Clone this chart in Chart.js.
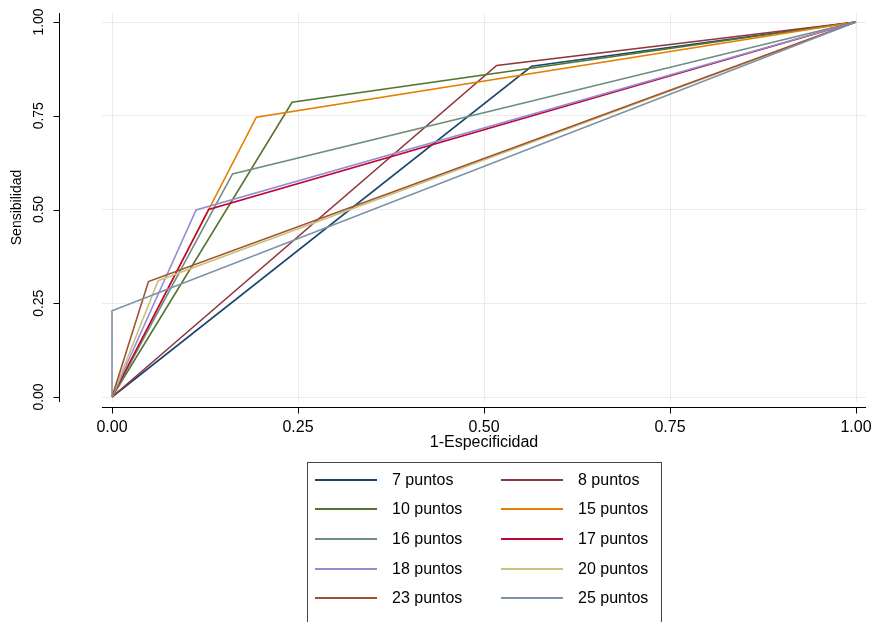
<!DOCTYPE html>
<html>
<head>
<meta charset="utf-8">
<script src="https://cdn.jsdelivr.net/npm/chart.js@4"></script>
<style>
  body { margin: 0; background: #fff; overflow: hidden; font-family: 'Liberation Sans', Arial, sans-serif; }
  #wrap { position: relative; width: 875px; height: 622px; }
  #legendBox {
    position: absolute; left: 307px; top: 462px; width: 355px; height: 180px;
    border: 1px solid #444; box-sizing: border-box; padding-top: 2px;
    display: grid; grid-template-columns: 186px 1fr; grid-auto-rows: 29.6px;
  }
  .item { display: flex; align-items: center; font-size: 16px; color: #000; }
  .swatch { display: inline-block; width: 62px; height: 2px; margin-left: 7px; margin-right: 15px; }
</style>
</head>
<body>
<div id="wrap">
  <canvas id="roc" width="875" height="465"></canvas>
  <div id="legendBox"></div>
</div>
<script>
// puntos de corte (una curva ROC por cada corte)
const seriesLabels = ['7 puntos', '8 puntos', '10 puntos', '15 puntos', '16 puntos',
                      '17 puntos', '18 puntos', '20 puntos', '23 puntos', '25 puntos'];
// 1-especificidad y sensibilidad en el punto de corte
const cutX = [0.564, 0.517, 0.242, 0.194, 0.162, 0.130, 0.113, 0.062, 0.049, 0.000];
const cutY = [0.882, 0.884, 0.786, 0.746, 0.595, 0.500, 0.499, 0.310, 0.308, 0.230];
const seriesColors = ['#1a476f', '#90353b', '#55752f', '#e37e00', '#6e8e84',
                      '#c10534', '#938dd2', '#cac27e', '#a0522d', '#7b92a8'];
const tickVals = [0, 0.25, 0.5, 0.75, 1];

Chart.defaults.font.family = "'Liberation Sans', Arial, sans-serif";
Chart.defaults.color = '#000';

// Stata pinta los ejes separados del area del grafico
const stataAxes = {
  id: 'stataAxes',
  afterDraw(chart) {
    const { ctx, chartArea, scales } = chart;
    const axX = chartArea.left - 43 + 0.5;
    const axY = chartArea.bottom + 5 + 0.5;
    ctx.save();
    ctx.strokeStyle = '#000';
    ctx.lineWidth = 1;
    ctx.beginPath();
    ctx.moveTo(axX, chartArea.top);
    ctx.lineTo(axX, chartArea.bottom);
    scales.y.ticks.forEach(t => {
      const py = Math.round(scales.y.getPixelForValue(t.value)) + 0.5;
      ctx.moveTo(axX - 6, py);
      ctx.lineTo(axX, py);
    });
    ctx.moveTo(chartArea.left, axY);
    ctx.lineTo(chartArea.right, axY);
    scales.x.ticks.forEach(t => {
      const px = Math.round(scales.x.getPixelForValue(t.value)) + 0.5;
      ctx.moveTo(px, axY);
      ctx.lineTo(px, axY + 6);
    });
    ctx.stroke();
    ctx.restore();
  }
};

const datasets = seriesLabels.map((lbl, i) => ({
  label: lbl,
  data: [{ x: 0, y: 0 }, { x: cutX[i], y: cutY[i] }, { x: 1, y: 1 }],
  borderColor: seriesColors[i],
  backgroundColor: seriesColors[i],
  borderWidth: 1.6,
  showLine: true,
  pointRadius: 0,
  tension: 0,
  order: seriesLabels.length - i
}));

const myChart = new Chart(document.getElementById('roc'), {
  type: 'scatter',
  data: { datasets },
  options: {
    responsive: false,
    animation: false,
    layout: { padding: { left: 0, top: 13, right: 9, bottom: 13 } },
    plugins: { legend: { display: false }, tooltip: { enabled: false } },
    scales: {
      x: {
        type: 'linear',
        min: -10 / 744, max: 1 + 10 / 744,
        afterBuildTicks: (axis) => { axis.ticks = tickVals.map(v => ({ value: v })); },
        afterFit: (scale) => { scale.height = 50; scale.paddingLeft = 0; scale.paddingRight = 0; },
        grid: { color: '#ececec', drawTicks: false },
        border: { display: false },
        ticks: { padding: 16, font: { size: 16 }, callback: v => v.toFixed(2), autoSkip: false, maxRotation: 0 },
        title: { display: true, text: '1-Especificidad', font: { size: 16 }, padding: 0 }
      },
      y: {
        min: -5 / 375, max: 1 + 9 / 375,
        afterBuildTicks: (axis) => { axis.ticks = tickVals.map(v => ({ value: v })); },
        afterFit: (scale) => { scale.width = 102; scale.paddingTop = 0; scale.paddingBottom = 0; },
        grid: { color: '#ececec', drawTicks: false },
        border: { display: false },
        ticks: { padding: 49, font: { size: 14 }, crossAlign: 'center', minRotation: 90, maxRotation: 90,
                 autoSkip: false, callback: v => v.toFixed(2) },
        title: { display: true, text: 'Sensibilidad', font: { size: 14 }, padding: { top: 9, bottom: 0 } }
      }
    }
  },
  plugins: [stataAxes]
});

// leyenda en dos columnas con marco, como en Stata
const legendBox = document.getElementById('legendBox');
myChart.data.datasets.forEach(ds => {
  const item = document.createElement('div');
  item.className = 'item';
  item.innerHTML = `<span class="swatch" style="background:${ds.borderColor}"></span>${ds.label}`;
  legendBox.appendChild(item);
});
</script>
</body>
</html>
